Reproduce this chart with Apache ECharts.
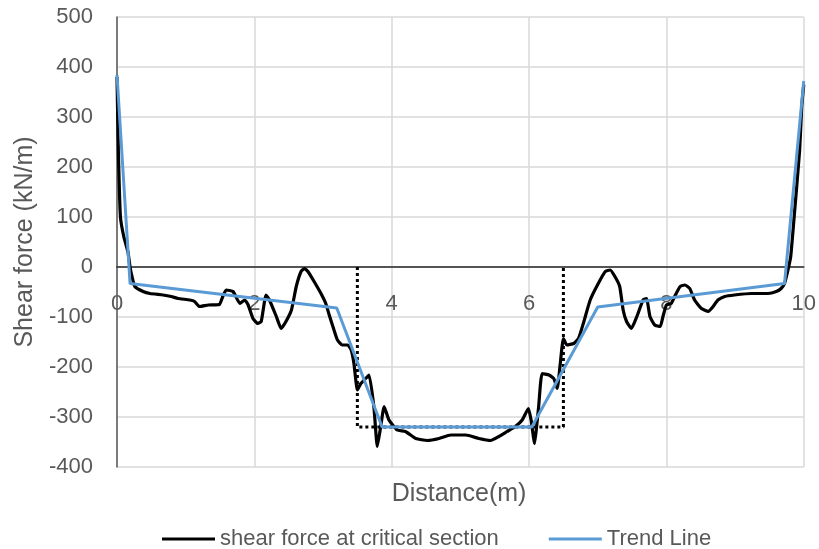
<!DOCTYPE html>
<html>
<head>
<meta charset="utf-8">
<script src="https://cdn.jsdelivr.net/npm/echarts@6/dist/echarts.min.js"></script>
<style>
  html, body { margin: 0; padding: 0; background: #ffffff; }
  #chart { width: 819px; height: 549px; }
</style>
</head>
<body>
<div id="chart"></div>
<script>
// Shear force along the section (x in m, V in kN/m)
const shearX = [0, 0.02, 0.05, 0.1, 0.16, 0.19, 0.22, 0.26, 0.38, 0.48, 0.67, 0.79, 0.89, 1.06, 1.13, 1.2, 1.33, 1.49, 1.54, 1.59,
  1.69, 1.79, 1.86, 1.91, 1.98, 2.05, 2.1, 2.17, 2.22, 2.32, 2.39, 2.46, 2.54, 2.61, 2.68, 2.73, 2.78, 2.87, 2.97, 3.04,
  3.09, 3.16, 3.21, 3.28, 3.36, 3.41, 3.45, 3.5, 3.55, 3.6, 3.67, 3.74, 3.79, 3.84, 3.89, 3.96, 4.08, 4.2, 4.35, 4.52,
  4.69, 4.86, 5.08, 5.27, 5.44, 5.56, 5.68, 5.8, 5.9, 5.99, 6.03, 6.08, 6.11, 6.14, 6.19, 6.29, 6.36, 6.41, 6.45, 6.5,
  6.55, 6.65, 6.72, 6.79, 6.89, 7.0, 7.11, 7.18, 7.25, 7.32, 7.37, 7.42, 7.49, 7.57, 7.66, 7.71, 7.76, 7.83, 7.91, 7.95,
  8.0, 8.07, 8.12, 8.2, 8.27, 8.34, 8.41, 8.51, 8.61, 8.68, 8.75, 8.85, 8.99, 9.24, 9.48, 9.6, 9.67, 9.72, 9.77, 9.81,
  9.86, 9.94, 9.97, 10];
const shearY = [380, 230, 100, 60, 30, 0, -20, -39, -49, -53, -56, -59, -63, -66, -69, -79, -76, -75, -59, -46,
  -49, -73, -66, -76, -103, -113, -109, -56, -66, -99, -123, -109, -86, -39, -9, -3, -9, -29, -53, -73,
  -96, -126, -146, -156, -156, -166, -193, -246, -233, -226, -216, -279, -359, -319, -279, -306, -326, -329, -343, -347,
  -343, -336, -336, -343, -347, -339, -329, -319, -306, -283, -306, -353, -319, -279, -213, -216, -223, -243, -199, -143,
  -156, -153, -143, -113, -66, -35, -9, -6, -19, -39, -86, -109, -123, -99, -66, -63, -99, -116, -119, -99,
  -76, -73, -59, -39, -36, -43, -66, -83, -89, -79, -66, -59, -56, -53, -53, -49, -43, -33, -6, 21,
  100, 234, 320, 365];

// Piecewise-linear trend
const trendX = [0, 0.19, 3.2, 3.86, 6.04, 7.0, 9.72, 10];
const trendY = [384, -33, -82, -320, -320, -80, -33, 372];

// Critical-section outline
const boxX = [3.5, 3.5, 6.5, 6.5];
const boxY = [0, -320, -320, 0];

// Axis ticks
const xTicks = { min: 0, max: 10, step: 2 };
const yTicks = { min: -400, max: 500, step: 100 };

const zip = (xs, ys) => xs.map((x, i) => [x, ys[i]]);

const FONT = '"Liberation Sans", Arial, sans-serif';
const TXT = '#595959';

const GRID = { left: 117, right: 13, top: 17, bottom: 82 };
const plotH = 549 - GRID.top - GRID.bottom;
// distance from the bottom edge of the plot up to the zero line
const zeroLift = plotH * (0 - yTicks.min) / (yTicks.max - yTicks.min);

const chart = echarts.init(document.getElementById('chart'), null, { renderer: 'canvas' });

chart.setOption({
  animation: false,
  backgroundColor: '#ffffff',
  textStyle: { fontFamily: FONT },
  grid: Object.assign({ containLabel: false }, GRID),
  xAxis: {
    type: 'value',
    min: xTicks.min,
    max: xTicks.max,
    interval: xTicks.step,
    position: 'bottom',
    offset: -zeroLift,
    axisLine: { show: true, onZero: false, lineStyle: { color: '#262626', width: 1.5 } },
    axisTick: { show: false },
    axisLabel: { color: TXT, fontSize: 22, fontFamily: FONT, margin: 26 },
    splitLine: { show: true, lineStyle: { color: '#d9d9d9', width: 1.5 } }
  },
  yAxis: {
    type: 'value',
    min: yTicks.min,
    max: yTicks.max,
    interval: yTicks.step,
    name: 'Shear force (kN/m)',
    nameLocation: 'middle',
    nameGap: 77,
    nameTextStyle: { color: TXT, fontSize: 25, fontFamily: FONT },
    axisLine: { show: true, onZero: false, lineStyle: { color: '#595959', width: 1.5 } },
    axisTick: { show: false },
    axisLabel: { color: TXT, fontSize: 22, fontFamily: FONT, margin: 24 },
    splitLine: { show: true, lineStyle: { color: '#d9d9d9', width: 1.5 } }
  },
  legend: {
    data: ['shear force at critical section', 'Trend Line'],
    left: 157,
    top: 523,
    icon: 'rect',
    itemWidth: 53,
    itemHeight: 3,
    itemGap: 50,
    textStyle: { color: TXT, fontSize: 22, fontFamily: FONT }
  },
  graphic: [{
    type: 'text',
    x: 459,
    y: 494,
    style: {
      text: 'Distance(m)',
      fill: TXT,
      font: '25px ' + FONT,
      textAlign: 'center',
      textVerticalAlign: 'middle'
    }
  }],
  series: [
    {
      name: 'critical section',
      type: 'line',
      data: zip(boxX, boxY),
      symbol: 'none',
      silent: true,
      lineStyle: { color: '#000000', width: 3, type: [3, 3] }
    },
    {
      name: 'shear force at critical section',
      type: 'line',
      data: zip(shearX, shearY),
      symbol: 'none',
      smooth: 0.15,
      lineStyle: { color: '#000000', width: 3.2 },
      itemStyle: { color: '#000000' }
    },
    {
      name: 'Trend Line',
      type: 'line',
      data: zip(trendX, trendY),
      symbol: 'none',
      lineStyle: { color: '#5b9bd5', width: 3 },
      itemStyle: { color: '#5b9bd5' }
    }
  ]
});
</script>
</body>
</html>
